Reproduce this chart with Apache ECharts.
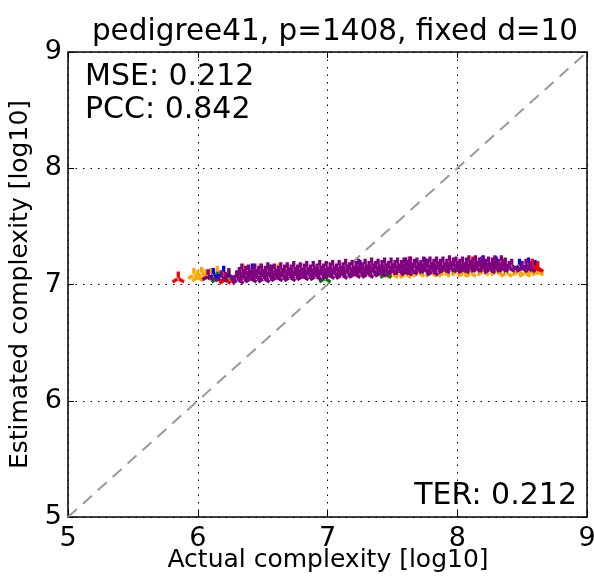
<!DOCTYPE html>
<html>
<head>
<meta charset="utf-8">
<script src="https://cdn.jsdelivr.net/npm/echarts@6/dist/echarts.min.js"></script>
<style>
  html, body { margin: 0; padding: 0; background: #fff; }
  #chart { width: 594px; height: 576px; }
</style>
</head>
<body>
<div id="chart"></div>
<script>
// axis ticks
var ticks = [5, 6, 7, 8, 9];
var xName = 'Actual complexity [log10]';
var yName = 'Estimated complexity [log10]';

// x = actual, y = estimated (log10)
var orangePts = [
  [5.97, 7.09], [6.00, 7.07], [6.03, 7.10], [6.06, 7.08], [6.10, 7.09], [6.15, 7.11], [6.22, 7.06],
  [6.35, 7.12], [6.48, 7.13], [6.62, 7.13], [6.70, 7.10], [6.90, 7.12], [7.30, 7.11],
  [7.50, 7.10], [7.55, 7.11], [7.60, 7.10], [7.70, 7.11], [7.80, 7.11], [7.90, 7.11], [8.00, 7.12],
  [8.05, 7.11], [8.10, 7.11], [8.20, 7.12], [8.30, 7.12], [8.38, 7.11], [8.47, 7.12], [8.52, 7.11],
  [8.58, 7.13], [8.62, 7.12]
];
var greenPts = [
  [6.15, 7.06], [6.24, 7.07], [6.55, 7.12], [6.98, 7.06], [7.45, 7.10], [8.02, 7.15], [8.10, 7.16], [8.28, 7.17]
];
var bluePts = [
  [6.12, 7.09], [6.20, 7.11], [6.42, 7.13], [7.25, 7.16], [7.60, 7.18], [7.75, 7.18], [8.20, 7.20],
  [8.30, 7.19], [8.48, 7.17], [8.55, 7.18], [8.60, 7.16]
];
var redPts = [
  [5.85, 7.06], [6.21, 7.05], [7.63, 7.19], [8.12, 7.19], [8.35, 7.17], [8.58, 7.17], [8.62, 7.15]
];
var purplePts = [
  [6.08, 7.08], [6.18, 7.07], [6.24, 7.09],
  [6.30, 7.07], [6.35, 7.08], [6.40, 7.07], [6.45, 7.08], [6.50, 7.08], [6.55, 7.09], [6.60, 7.08],
  [6.65, 7.09], [6.70, 7.09], [6.75, 7.10], [6.80, 7.09], [6.85, 7.10], [6.90, 7.10], [6.95, 7.11],
  [7.00, 7.10], [7.05, 7.11], [7.10, 7.11], [7.15, 7.12], [7.20, 7.11], [7.25, 7.12], [7.30, 7.12],
  [7.35, 7.13], [7.40, 7.12], [7.45, 7.13], [7.50, 7.13], [7.55, 7.13], [7.60, 7.14], [7.65, 7.13],
  [7.70, 7.14], [7.75, 7.14], [7.80, 7.14], [7.85, 7.15], [7.90, 7.14], [7.95, 7.15], [8.00, 7.15],
  [8.05, 7.14], [8.10, 7.15], [8.15, 7.15], [8.20, 7.15], [8.25, 7.14], [8.30, 7.15], [8.35, 7.15],
  [8.40, 7.15], [8.50, 7.15], [8.56, 7.15],
  [6.32, 7.10], [6.37, 7.11], [6.42, 7.10], [6.47, 7.11], [6.52, 7.11], [6.57, 7.12], [6.62, 7.11],
  [6.67, 7.12], [6.72, 7.12], [6.77, 7.12], [6.82, 7.13], [6.87, 7.12], [6.92, 7.13], [6.97, 7.13],
  [7.02, 7.14], [7.07, 7.13], [7.12, 7.14], [7.17, 7.14], [7.22, 7.15], [7.27, 7.14], [7.32, 7.15],
  [7.37, 7.15], [7.42, 7.16], [7.47, 7.15], [7.52, 7.16], [7.57, 7.16], [7.62, 7.16], [7.67, 7.17],
  [7.72, 7.16], [7.77, 7.17], [7.82, 7.17], [7.87, 7.17], [7.92, 7.17], [7.97, 7.18], [8.02, 7.17],
  [8.07, 7.18], [8.12, 7.17], [8.17, 7.18], [8.22, 7.17], [8.27, 7.18], [8.32, 7.17], [8.37, 7.18],
  [8.42, 7.17], [8.53, 7.17],
  [6.34, 7.13], [6.39, 7.12], [6.44, 7.13], [6.49, 7.13], [6.54, 7.14], [6.59, 7.13], [6.64, 7.14],
  [6.69, 7.14], [6.74, 7.15], [6.79, 7.14], [6.84, 7.15], [6.89, 7.15], [6.94, 7.16], [6.99, 7.15],
  [7.04, 7.16], [7.09, 7.16], [7.14, 7.17], [7.19, 7.16], [7.24, 7.17], [7.29, 7.17], [7.34, 7.18],
  [7.39, 7.17], [7.44, 7.18], [7.49, 7.18], [7.54, 7.18], [7.59, 7.18], [7.64, 7.19], [7.69, 7.18],
  [7.74, 7.19], [7.79, 7.19], [7.84, 7.19], [7.89, 7.19], [7.94, 7.20], [7.99, 7.19], [8.04, 7.19],
  [8.09, 7.20], [8.14, 7.20], [8.19, 7.19], [8.24, 7.19], [8.29, 7.20], [8.34, 7.20],
  [6.31, 7.05], [6.41, 7.06], [6.51, 7.06], [6.61, 7.07], [6.71, 7.07], [6.81, 7.08], [6.91, 7.08],
  [7.01, 7.09], [7.11, 7.09], [7.21, 7.10], [7.31, 7.10], [7.41, 7.11], [7.61, 7.12], [7.81, 7.12]
];
var diagonal = [[5, 5], [9, 9]];

// matplotlib-style tri_up marker, filled arms
var triUp = 'path://M-2.5,-10 L2.5,-10 L2.5,0 L-2.5,0 Z ' +
  'M1.25,-2.17 L9.91,2.83 L7.41,7.17 L-1.25,2.17 Z ' +
  'M-1.25,-2.17 L-9.91,2.83 L-7.41,7.17 L1.25,2.17 Z';

var font = 'DejaVu Sans';
var chart = echarts.init(document.getElementById('chart'));

function pts(data, color) {
  return {
    type: 'scatter', data: data, symbol: triUp, symbolSize: [13, 12],
    itemStyle: { color: color, opacity: 1 }, silent: true, z: 3
  };
}

var gridLine = { show: true, lineStyle: { color: '#000', width: 1, type: [1.5, 6] } };
var tick = { show: true, inside: true, length: 6, lineStyle: { color: '#000', width: 1 } };

chart.setOption({
  animation: false,
  textStyle: { fontFamily: font },
  title: {
    text: 'pedigree41, p=1408, fixed d=10',
    left: 330, top: 12, textAlign: 'center',
    textStyle: { fontFamily: font, fontSize: 29.5, fontWeight: 'normal', color: '#000' }
  },
  grid: {
    left: 68, right: 7, top: 52, bottom: 59, outerBoundsMode: 'none', containLabel: false,
    show: true, borderColor: '#000', borderWidth: 1.5
  },
  xAxis: [{
    type: 'value', min: 5, max: 9, interval: 1,
    axisLine: { show: false }, axisTick: tick, splitLine: gridLine,
    axisLabel: { fontFamily: font, fontSize: 27, color: '#000', margin: 8 }
  }, {
    type: 'value', min: 5, max: 9, interval: 1, position: 'top',
    axisLine: { show: false }, axisTick: tick, splitLine: { show: false }, axisLabel: { show: false }
  }],
  yAxis: [{
    type: 'value', min: 5, max: 9, interval: 1,
    name: yName, nameLocation: 'middle', nameGap: 35,
    nameTextStyle: { fontFamily: font, fontSize: 25, color: '#000' },
    axisLine: { show: false }, axisTick: tick, splitLine: gridLine,
    axisLabel: { fontFamily: font, fontSize: 27, color: '#000', margin: 6 }
  }, {
    type: 'value', min: 5, max: 9, interval: 1, position: 'right',
    axisLine: { show: false }, axisTick: tick, splitLine: { show: false }, axisLabel: { show: false }
  }],
  graphic: [
    { type: 'text', left: 85, top: 62, style: { text: 'MSE: 0.212', font: '30px DejaVu Sans', fill: '#000' } },
    { type: 'text', left: 85, top: 95, style: { text: 'PCC: 0.842', font: '30px DejaVu Sans', fill: '#000' } },
    { type: 'text', right: 17, top: 481, style: { text: 'TER: 0.212', font: '30px DejaVu Sans', fill: '#000' } },
    {
      type: 'text', x: 328, y: 560,
      style: { text: xName, font: '25px DejaVu Sans', fill: '#000', align: 'center', verticalAlign: 'middle' }
    }
  ],
  series: [
    {
      type: 'line', data: diagonal, symbol: 'none', silent: true, z: 2,
      lineStyle: { color: '#999', width: 2, type: [12, 8] }
    },
    pts(orangePts, '#ffa500'),
    pts(greenPts, '#008000'),
    pts(bluePts, '#0000ff'),
    pts(redPts, '#ff0000'),
    pts(purplePts, '#800080')
  ]
});
</script>
</body>
</html>
